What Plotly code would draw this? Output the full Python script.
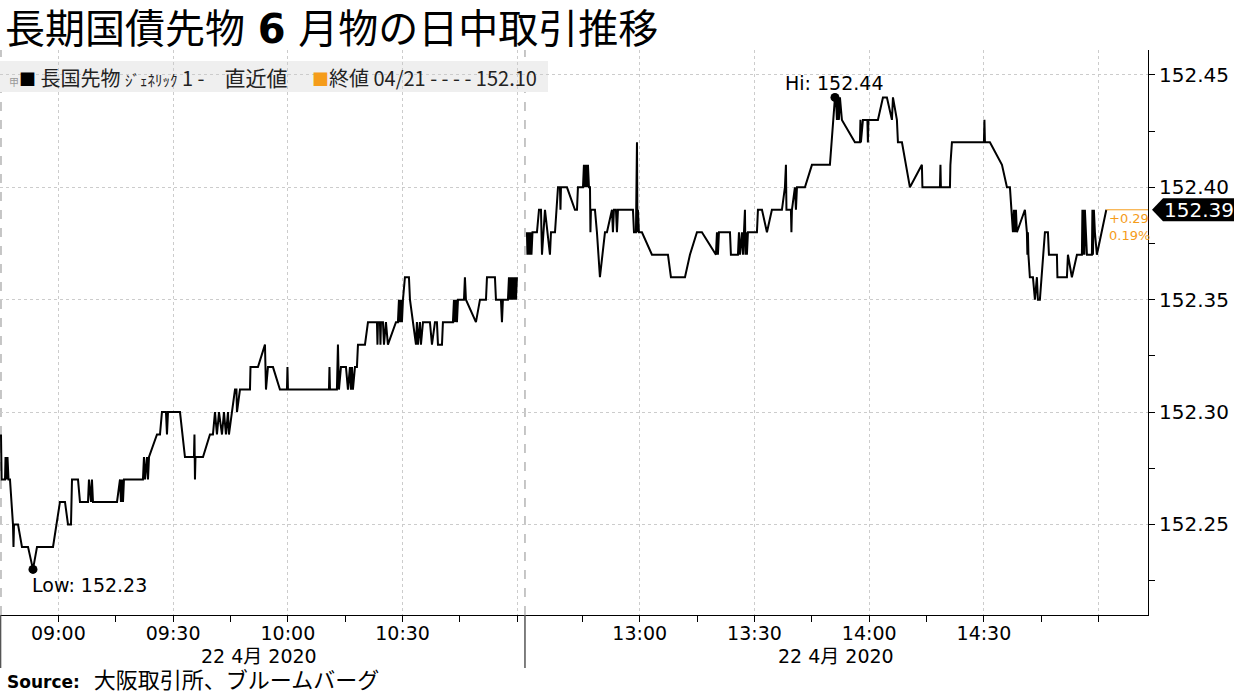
import plotly.graph_objects as go

# ---------------- data ----------------
title_text = "長期国債先物 <b>6</b> 月物の日中取引推移"
source_label = "Source:"
source_name = "大阪取引所、ブルームバーグ"
series_name = "長国先物"
generic_label = "ｼﾞｪﾈﾘｯｸ"
series_suffix_a = "1 -"
series_suffix_b = "直近値"
prev_close_label = "終値 04/21 - - - -"
prev_close = 152.10
session_date_label = "22 4月 2020"

am_times = [
    "08:45:00", "08:45:10", "08:46:03", "08:46:11", "08:46:26", "08:46:42", "08:46:58", "08:47:21",
    "08:48:08", "08:48:16", "08:48:24", "08:49:27", "08:50:29", "08:52:04", "08:53:22", "08:54:25",
    "08:58:36", "09:00:25", "09:01:44", "09:02:31", "09:03:18", "09:03:34", "09:05:08", "09:05:39",
    "09:07:45", "09:08:00", "09:08:32", "09:08:47", "09:09:03", "09:15:20", "09:16:07", "09:16:22",
    "09:16:38", "09:16:54", "09:17:09", "09:22:07", "09:22:23", "09:22:39", "09:23:10", "09:23:26",
    "09:23:42", "09:25:47", "09:26:34", "09:27:05", "09:28:08", "09:28:24", "09:28:40", "09:31:48",
    "09:33:06", "09:35:27", "09:35:35", "09:35:43", "09:35:51", "09:37:49", "09:39:38", "09:40:25",
    "09:40:57", "09:41:28", "09:42:00", "09:42:47", "09:43:18", "09:43:49", "09:44:21", "09:44:36",
    "09:45:23", "09:46:11", "09:46:34", "09:46:42", "09:47:29", "09:50:06", "09:50:14", "09:52:11",
    "09:54:01", "09:54:17", "09:54:48", "09:56:07", "09:57:56", "09:59:46", "09:59:54", "10:00:02",
    "10:10:45", "10:10:53", "10:11:01", "10:12:50", "10:13:06", "10:13:22", "10:13:53", "10:15:12",
    "10:15:43", "10:16:14", "10:16:30", "10:16:46", "10:17:01", "10:17:33", "10:18:04", "10:18:20",
    "10:20:10", "10:20:57", "10:23:18", "10:23:26", "10:23:34", "10:24:05", "10:24:13", "10:24:21",
    "10:24:52", "10:25:08", "10:25:39", "10:26:10", "10:28:16", "10:28:47", "10:29:03", "10:29:19",
    "10:29:34", "10:29:50", "10:30:06", "10:30:37", "10:31:40", "10:31:56", "10:33:30", "10:33:45",
    "10:34:01", "10:34:32", "10:34:48", "10:35:20", "10:37:09", "10:37:41", "10:38:28", "10:38:59",
    "10:39:15", "10:40:18", "10:40:33", "10:43:10", "10:43:26", "10:43:41", "10:43:57", "10:44:13",
    "10:44:29", "10:46:03", "10:46:18", "10:46:34", "10:49:11", "10:50:14", "10:51:48", "10:52:04",
    "10:54:09", "10:54:25", "10:55:43", "10:55:59", "10:56:14", "10:57:33", "10:57:49", "10:58:04",
    "10:58:20", "10:58:36", "10:58:51", "10:59:07", "10:59:23", "10:59:38", "10:59:54",
]
am_prices = [
    152.29, 152.27, 152.27, 152.28, 152.27, 152.28, 152.27, 152.27,
    152.25, 152.24, 152.25, 152.25, 152.24, 152.24, 152.23, 152.24,
    152.24, 152.26, 152.26, 152.25, 152.25, 152.27, 152.27, 152.26,
    152.26, 152.27, 152.26, 152.27, 152.26, 152.26, 152.27, 152.26,
    152.27, 152.26, 152.27, 152.27, 152.28, 152.27, 152.28, 152.27,
    152.28, 152.29, 152.29, 152.30, 152.30, 152.29, 152.30, 152.30,
    152.28, 152.28, 152.29, 152.27, 152.28, 152.28, 152.29, 152.29,
    152.30, 152.29, 152.30, 152.29, 152.30, 152.29, 152.30, 152.29,
    152.30, 152.31, 152.31, 152.30, 152.31, 152.31, 152.32, 152.32,
    152.33, 152.31, 152.32, 152.32, 152.31, 152.31, 152.32, 152.31,
    152.31, 152.32, 152.31, 152.31, 152.33, 152.31, 152.32, 152.32,
    152.31, 152.32, 152.31, 152.32, 152.31, 152.32, 152.32, 152.33,
    152.33, 152.34, 152.34, 152.33, 152.34, 152.34, 152.33, 152.34,
    152.34, 152.33, 152.34, 152.33, 152.34, 152.34, 152.35, 152.34,
    152.35, 152.34, 152.35, 152.36, 152.36, 152.35, 152.33, 152.34,
    152.33, 152.34, 152.33, 152.34, 152.34, 152.33, 152.34, 152.34,
    152.33, 152.33, 152.34, 152.34, 152.35, 152.34, 152.35, 152.34,
    152.35, 152.35, 152.36, 152.35, 152.34, 152.35, 152.35, 152.36,
    152.36, 152.35, 152.35, 152.34, 152.35, 152.35, 152.36, 152.35,
    152.36, 152.35, 152.36, 152.35, 152.36, 152.35, 152.36,
]

pm_times = [
    "12:30:31", "12:30:39", "12:30:55", "12:31:11", "12:31:26", "12:31:42", "12:31:58", "12:33:08",
    "12:33:40", "12:34:11", "12:34:27", "12:35:14", "12:36:32", "12:36:48", "12:37:51", "12:38:38",
    "12:39:09", "12:39:17", "12:39:25", "12:40:59", "12:43:04", "12:43:36", "12:43:51", "12:45:10",
    "12:45:25", "12:45:41", "12:45:57", "12:46:13", "12:46:28", "12:46:44", "12:47:00", "12:47:07",
    "12:47:15", "12:48:18", "12:48:49", "12:49:36", "12:50:55", "12:51:26", "12:52:45", "12:53:00",
    "12:53:16", "12:53:47", "12:54:03", "12:54:19", "12:58:14", "12:58:30", "12:59:01", "12:59:17",
    "12:59:25", "12:59:32", "12:59:48", "13:00:35", "13:03:12", "13:07:23", "13:08:10", "13:11:50",
    "13:13:08", "13:14:58", "13:16:16", "13:19:56", "13:20:12", "13:20:27", "13:20:43", "13:23:36",
    "13:23:51", "13:25:41", "13:25:57", "13:26:13", "13:26:44", "13:27:00", "13:27:31", "13:27:39",
    "13:27:47", "13:28:02", "13:28:18", "13:30:39", "13:30:55", "13:31:58", "13:33:16", "13:34:34",
    "13:37:11", "13:37:58", "13:38:14", "13:38:22", "13:39:32", "13:39:40", "13:39:48", "13:40:35",
    "13:40:51", "13:41:07", "13:43:12", "13:45:02", "13:49:44", "13:51:03", "13:51:18", "13:51:34",
    "13:51:50", "13:52:05", "13:52:21", "13:52:52", "13:56:16", "13:57:35", "13:57:43", "13:57:50",
    "13:58:22", "13:59:32", "13:59:40", "13:59:48", "14:02:17", "14:03:36", "14:04:38", "14:05:57",
    "14:06:13", "14:07:15", "14:07:31", "14:08:34", "14:10:39", "14:13:47", "14:13:55", "14:18:30",
    "14:18:38", "14:18:45", "14:21:07", "14:21:14", "14:21:38", "14:30:00", "14:30:08", "14:30:16",
    "14:31:34", "14:34:43", "14:36:01", "14:36:48", "14:37:35", "14:37:51", "14:38:07", "14:38:22",
    "14:38:38", "14:40:43", "14:41:14", "14:41:22", "14:41:30", "14:41:38", "14:42:01", "14:42:49",
    "14:43:20", "14:43:51", "14:44:07", "14:44:38", "14:45:57", "14:46:44", "14:47:00", "14:49:05",
    "14:49:13", "14:51:42", "14:51:58", "14:53:00", "14:54:19", "14:55:37", "14:55:45", "14:55:53",
    "14:56:01", "14:56:16", "14:56:24", "14:56:56", "14:58:14", "14:58:22", "14:58:30", "14:58:45",
    "14:59:01", "14:59:32", "15:02:00",
]
pm_prices = [
    152.38, 152.37, 152.38, 152.37, 152.38, 152.37, 152.38, 152.38,
    152.39, 152.39, 152.37, 152.39, 152.37, 152.38, 152.38, 152.40,
    152.40, 152.39, 152.40, 152.40, 152.39, 152.39, 152.40, 152.40,
    152.41, 152.40, 152.41, 152.40, 152.41, 152.40, 152.40, 152.38,
    152.39, 152.39, 152.38, 152.36, 152.38, 152.38, 152.39, 152.38,
    152.39, 152.39, 152.38, 152.39, 152.39, 152.38, 152.38, 152.42,
    152.38, 152.39, 152.38, 152.38, 152.37, 152.37, 152.36, 152.36,
    152.37, 152.38, 152.38, 152.37, 152.38, 152.37, 152.38, 152.38,
    152.37, 152.37, 152.38, 152.37, 152.38, 152.37, 152.39, 152.37,
    152.38, 152.37, 152.38, 152.38, 152.39, 152.39, 152.38, 152.39,
    152.39, 152.40, 152.41, 152.39, 152.39, 152.38, 152.39, 152.40,
    152.39, 152.40, 152.40, 152.41, 152.41, 152.44, 152.44, 152.43,
    152.44, 152.43, 152.44, 152.43, 152.42, 152.42, 152.43, 152.42,
    152.43, 152.43, 152.42, 152.43, 152.43, 152.44, 152.44, 152.43,
    152.44, 152.43, 152.42, 152.42, 152.40, 152.41, 152.40, 152.40,
    152.41, 152.40, 152.40, 152.41, 152.42, 152.42, 152.43, 152.42,
    152.42, 152.41, 152.40, 152.40, 152.38, 152.39, 152.38, 152.39,
    152.38, 152.39, 152.38, 152.37, 152.38, 152.37, 152.36, 152.36,
    152.35, 152.36, 152.35, 152.35, 152.38, 152.38, 152.37, 152.37,
    152.36, 152.36, 152.37, 152.36, 152.37, 152.37, 152.39, 152.37,
    152.39, 152.37, 152.39, 152.37, 152.37, 152.39, 152.37, 152.39,
    152.38, 152.37, 152.39,
]

x_tick_times = ["09:00", "09:30", "10:00", "10:30", "11:00", "13:00", "13:30", "14:00", "14:30", "15:00"]
x_tick_labels = ["09:00", "09:30", "10:00", "10:30", "", "13:00", "13:30", "14:00", "14:30", ""]
x_minor_times = ["08:45", "09:15", "09:45", "10:15", "10:45", "12:45", "13:15", "13:45", "14:15", "14:45"]
y_ticks = [152.25, 152.30, 152.35, 152.40, 152.45]

# ---------------- session (break) time axis ----------------
AM_OPEN = 8 * 60 + 45
AM_CLOSE = 11 * 60 + 2
PM_OPEN = 12 * 60 + 30


def to_axis(t):
    parts = [int(p) for p in t.split(":")]
    while len(parts) < 3:
        parts.append(0)
    mins = parts[0] * 60 + parts[1] + parts[2] / 60.0
    if mins <= AM_CLOSE:
        return mins - AM_OPEN
    return (AM_CLOSE - AM_OPEN) + (mins - PM_OPEN)


am_x = [to_axis(t) for t in am_times]
pm_x = [to_axis(t) for t in pm_times]
break_x = to_axis("12:30")
open_x = to_axis("08:45")

X_RANGE = [-0.26, 299.9]
Y_RANGE = [152.2097, 152.4611]

ORANGE = "#f59c1a"
FONT = "DejaVu Sans, Noto Sans CJK JP, sans-serif"
JFONT = "Noto Sans CJK JP, DejaVu Sans, sans-serif"

all_x = am_x + pm_x
all_y = am_prices + pm_prices
lo_i = min(range(len(all_y)), key=lambda i: all_y[i])
hi_i = max(range(len(all_y)), key=lambda i: all_y[i])
last_x, last_y = pm_x[-1], pm_prices[-1]
chg = last_y - prev_close
chg_pct = chg / prev_close * 100

fig = go.Figure()
line_style = dict(color="black", width=2)
fig.add_trace(go.Scatter(x=am_x, y=am_prices, mode="lines", line=line_style, hoverinfo="skip"))
fig.add_trace(go.Scatter(x=pm_x, y=pm_prices, mode="lines", line=line_style, hoverinfo="skip"))
fig.add_trace(go.Scatter(x=[last_x, X_RANGE[1]], y=[last_y, last_y], mode="lines",
                         line=dict(color=ORANGE, width=1), hoverinfo="skip", cliponaxis=False))
fig.add_trace(go.Scatter(x=[all_x[lo_i], all_x[hi_i]], y=[all_y[lo_i], all_y[hi_i]], mode="markers",
                         marker=dict(color="black", size=9), hoverinfo="skip", cliponaxis=False))

PW = 1148.0  # plot width in px
PH = 565.0   # plot height in px
px_y = (Y_RANGE[1] - Y_RANGE[0]) / PH

shapes = [
    dict(type="line", xref="x", yref="paper", x0=open_x, x1=open_x, y0=0, y1=1,
         line=dict(color="#b4b4b4", width=1.5, dash="dash"), layer="below"),
    dict(type="line", xref="x", yref="paper", x0=break_x, x1=break_x, y0=0, y1=1,
         line=dict(color="#b4b4b4", width=1.5, dash="dash"), layer="below"),
    dict(type="line", xref="x", yref="paper", x0=break_x, x1=break_x, y0=0, y1=-53 / PH,
         line=dict(color="#555555", width=1.5)),
    dict(type="line", xref="paper", yref="paper", x0=0.0005, x1=0.0005, y0=0, y1=-53 / PH,
         line=dict(color="#555555", width=1.5)),
    dict(type="rect", xref="paper", yref="paper", x0=0, x1=548 / PW, y0=(615 - 92) / PH, y1=(615 - 61) / PH,
         fillcolor="#efefef", line=dict(width=0), layer="below"),
    dict(type="path", xref="paper", yref="y",
         path=(f"M {1152 / PW},{last_y} L {1163 / PW},{last_y + 11.5 * px_y} "
               f"L {1234 / PW},{last_y + 11.5 * px_y} L {1234 / PW},{last_y - 11.5 * px_y} "
               f"L {1163 / PW},{last_y - 11.5 * px_y} Z"),
         fillcolor="black", line=dict(width=0), layer="above"),
]

legend_text = (
    '<span style="font-size:10px;color:#999999">甲</span>'
    '<span style="font-size:17px;color:black">■</span> ' + series_name + ' '
    '<span style="font-size:15px">' + generic_label + '</span> ' + series_suffix_a + '\u3000'
    '<span style="font-size:21px">' + series_suffix_b + '</span>\u3000 '
    '<span style="font-size:17px;color:' + ORANGE + '">■</span>' + prev_close_label + f' {prev_close:.2f}'
)

source_text = (
    '<span style="font-size:17px"><b>' + source_label + '</b></span>  '
    + source_name
)

annotations = [
    dict(text=legend_text, xref="paper", yref="paper", x=7 / PW, y=(615 - 77) / PH,
         xanchor="left", yanchor="middle", showarrow=False,
         font=dict(family=JFONT, size=20, color="#222222")),
    dict(text=f"Low: {all_y[lo_i]:.2f}", x=all_x[lo_i], y=all_y[lo_i], xref="x", yref="y",
         xanchor="left", yanchor="top", xshift=-3, yshift=-3, showarrow=False,
         font=dict(family=FONT, size=19, color="black")),
    dict(text=f"Hi: {all_y[hi_i]:.2f}", x=all_x[hi_i], y=all_y[hi_i], xref="x", yref="y",
         xanchor="center", yanchor="bottom", yshift=1, showarrow=False,
         font=dict(family=FONT, size=19, color="black")),
    dict(text=f"{chg:+.2f}<br>{chg_pct:.2f}%", x=last_x, y=last_y, xref="x", yref="y",
         xanchor="left", yanchor="top", xshift=1, yshift=1, showarrow=False, align="left",
         font=dict(family=FONT, size=13, color=ORANGE)),
    dict(text=f"{last_y:.2f}", xref="paper", yref="y", x=1199 / PW, y=last_y,
         xanchor="center", yanchor="middle", showarrow=False,
         font=dict(family=FONT, size=20, color="white")),
    dict(text=session_date_label, xref="x", yref="paper", x=(open_x + to_axis("11:00")) / 2, y=-41 / PH,
         xanchor="center", yanchor="middle", showarrow=False,
         font=dict(family=FONT, size=19, color="black")),
    dict(text=session_date_label, xref="x", yref="paper", x=(break_x + X_RANGE[1]) / 2, y=-41 / PH,
         xanchor="center", yanchor="middle", showarrow=False,
         font=dict(family=FONT, size=19, color="black")),
    dict(text=source_text, xref="paper", yref="paper", x=5 / PW, y=-(680 - 615) / PH,
         xanchor="left", yanchor="middle", showarrow=False,
         font=dict(family=FONT, size=22, color="black")),
]

fig.update_layout(
    width=1234, height=694,
    margin=dict(l=0, r=86, t=50, b=79, pad=0),
    paper_bgcolor="white", plot_bgcolor="white",
    showlegend=False,
    font=dict(family=FONT, color="black"),
    title=dict(text=title_text, x=5 / 1234, xanchor="left", xref="container",
               y=1 - 29 / 694, yanchor="middle", yref="container",
               font=dict(family=FONT, size=40, color="black")),
    shapes=shapes,
    annotations=annotations,
    xaxis=dict(
        range=X_RANGE, tickmode="array",
        tickvals=[to_axis(t) for t in x_tick_times], ticktext=x_tick_labels,
        ticks="outside", ticklen=6, tickcolor="black", tickwidth=1,
        ticklabelstandoff=-5,
        minor=dict(tickmode="array", tickvals=[to_axis(t) for t in x_minor_times],
                   ticks="outside", ticklen=6, tickcolor="black", showgrid=False),
        showline=True, linecolor="black", linewidth=1,
        showgrid=True, gridcolor="#cccccc", griddash="dot", gridwidth=1,
        zeroline=False, tickfont=dict(family=FONT, size=19, color="black"),
        fixedrange=True,
    ),
    yaxis=dict(
        range=Y_RANGE, side="right", tickmode="array", tickvals=y_ticks,
        ticktext=[f"{v:.2f}" for v in y_ticks],
        ticks="outside", ticklen=6, tickcolor="black", tickwidth=1,
        minor=dict(tickmode="linear", tick0=152.225, dtick=0.05, ticks="outside", ticklen=6,
                   tickcolor="black", showgrid=False),
        showline=True, linecolor="black", linewidth=1,
        showgrid=True, gridcolor="#cccccc", griddash="dot", gridwidth=1,
        zeroline=False, tickfont=dict(family=FONT, size=20, color="black"),
        fixedrange=True,
    ),
)

fig.write_html("out.html", config={"displayModeBar": False},
               post_script="document.body.style.margin='0';document.body.style.overflow='hidden';")
